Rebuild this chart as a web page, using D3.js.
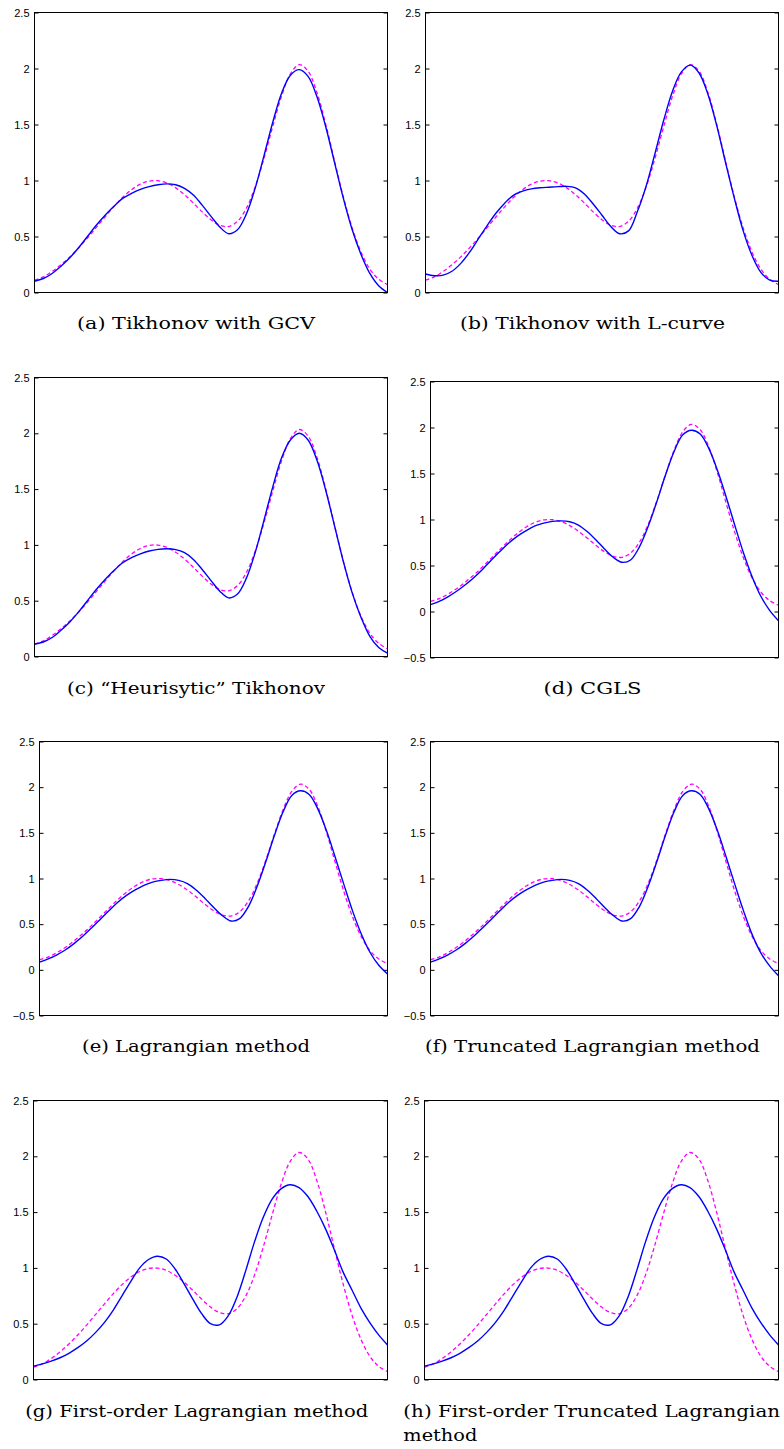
<!DOCTYPE html>
<html lang="en">
<head>
  <meta charset="UTF-8">
  <title>Regularized solutions vs exact solution</title>
  <script src="https://d3js.org/d3.v7.min.js"></script>
  <style>
    body { margin: 0; background: #fff; }
    .tick text { font-family: "Liberation Sans", Arial, sans-serif; font-size: 11px; fill: #000; }
    .tick line { stroke: #000; }
    .caption { font-family: "DejaVu Serif", "Liberation Serif", serif; font-size: 17px; fill: #000; }
  </style>
</head>
<body>
  <div id="chart"></div>

  <script>
    // exact solution (dashed), sampled on 41 equally spaced points across the x range
    const exact = [0.11, 0.14, 0.188, 0.248, 0.318, 0.399, 0.487, 0.581, 0.676, 0.767,
      0.85, 0.918, 0.968, 0.995, 0.998, 0.978, 0.934, 0.873, 0.799, 0.72,
      0.649, 0.6, 0.589, 0.635, 0.751, 0.942, 1.197, 1.484, 1.754, 1.953,
      2.034, 1.976, 1.786, 1.502, 1.173, 0.852, 0.575, 0.36, 0.209, 0.118, 0.07];

    // reconstructed solutions (solid blue)
    const tikhGcv = [0.10, 0.125, 0.17, 0.235, 0.31, 0.40, 0.50, 0.60, 0.69, 0.77,
      0.84, 0.885, 0.92, 0.945, 0.962, 0.97, 0.962, 0.93, 0.87, 0.78,
      0.68, 0.585, 0.525, 0.56, 0.70, 0.93, 1.22, 1.52, 1.78, 1.94,
      1.99, 1.93, 1.75, 1.48, 1.16, 0.84, 0.56, 0.34, 0.17, 0.06, 0.0];
    const tikhLcurve = [0.165, 0.15, 0.155, 0.19, 0.26, 0.36, 0.48, 0.60, 0.71, 0.80,
      0.87, 0.905, 0.925, 0.935, 0.94, 0.945, 0.948, 0.935, 0.88, 0.79,
      0.69, 0.59, 0.525, 0.55, 0.72, 0.95, 1.24, 1.54, 1.80, 1.97,
      2.03, 1.96, 1.77, 1.49, 1.16, 0.84, 0.55, 0.33, 0.18, 0.11, 0.10];
    const tikhHeur = [0.11, 0.13, 0.17, 0.235, 0.31, 0.40, 0.50, 0.60, 0.69, 0.77,
      0.84, 0.885, 0.92, 0.945, 0.96, 0.965, 0.958, 0.93, 0.87, 0.78,
      0.68, 0.585, 0.525, 0.56, 0.70, 0.93, 1.22, 1.52, 1.78, 1.94,
      2.0, 1.94, 1.76, 1.49, 1.17, 0.85, 0.57, 0.35, 0.18, 0.08, 0.03];
    const cgls = [0.075, 0.11, 0.16, 0.22, 0.29, 0.37, 0.46, 0.56, 0.655, 0.745,
      0.82, 0.88, 0.93, 0.96, 0.98, 0.985, 0.975, 0.94, 0.87, 0.78,
      0.68, 0.59, 0.535, 0.56, 0.70, 0.92, 1.19, 1.48, 1.74, 1.92,
      1.97, 1.93, 1.77, 1.53, 1.24, 0.93, 0.63, 0.37, 0.16, 0.01, -0.10];
    const lagrangian = [0.085, 0.12, 0.165, 0.22, 0.29, 0.37, 0.46, 0.555, 0.65, 0.74,
      0.815, 0.875, 0.925, 0.96, 0.98, 0.99, 0.98, 0.945, 0.875, 0.785,
      0.685, 0.595, 0.535, 0.56, 0.69, 0.91, 1.18, 1.47, 1.73, 1.91,
      1.96, 1.92, 1.76, 1.52, 1.23, 0.93, 0.64, 0.39, 0.19, 0.05, -0.045];
    const truncLagrangian = [0.085, 0.12, 0.165, 0.22, 0.29, 0.37, 0.46, 0.555, 0.65, 0.74,
      0.815, 0.875, 0.925, 0.96, 0.98, 0.99, 0.98, 0.945, 0.875, 0.785,
      0.685, 0.595, 0.535, 0.56, 0.69, 0.91, 1.18, 1.47, 1.73, 1.91,
      1.96, 1.92, 1.76, 1.52, 1.23, 0.93, 0.64, 0.38, 0.18, 0.04, -0.065];
    const firstOrder = [0.12, 0.14, 0.165, 0.195, 0.235, 0.285, 0.345, 0.42, 0.51, 0.62,
      0.75, 0.88, 1.0, 1.075, 1.105, 1.08, 0.99, 0.86, 0.72, 0.59,
      0.50, 0.49, 0.57, 0.74, 0.98, 1.24, 1.46, 1.62, 1.71, 1.745,
      1.72, 1.64, 1.51, 1.35, 1.16, 0.96, 0.80, 0.64, 0.51, 0.40, 0.31];
    const firstOrderTrunc = firstOrder.slice();

    const captions = ["(a) Tikhonov with GCV", "(b) Tikhonov with L-curve",
      "(c) \u201cHeurisytic\u201d Tikhonov", "(d) CGLS",
      "(e) Lagrangian method", "(f) Truncated Lagrangian method",
      "(g) First-order Lagrangian method", "(h) First-order Truncated Lagrangian"];
    const solutions = [tikhGcv, tikhLcurve, tikhHeur, cgls, lagrangian, truncLagrangian, firstOrder, firstOrderTrunc];
    const yLower = [0, 0, 0, -0.5, -0.5, -0.5, 0, 0];

    // plot boxes [left, top, right, bottom] and caption [centre x, baseline, width]
    const boxes = [
      [34.5, 12.5, 387.5, 292.5], [425.5, 12.5, 778.5, 292.5],
      [34.5, 377.5, 387.5, 656.5], [430.5, 381.5, 778.5, 657.5],
      [39.5, 741.5, 387.5, 1015.5], [430.5, 741.5, 778.5, 1015.5],
      [33.5, 1100.5, 387.5, 1379.5], [424.5, 1100.5, 778.5, 1379.5]
    ];
    const capPos = [
      [196, 329, 238], [592.5, 329, 265],
      [196, 694, 258], [592.5, 694, 98],
      [196, 1052, 228], [592.5, 1052, 335],
      [196.7, 1417, 343], [591.7, 1417, 376.7]
    ];

    const svg = d3.select("#chart")
      .append("svg")
      .attr("width", 784)
      .attr("height", 1449);

    solutions.forEach((sol, i) => {
      const [l, t, r, b] = boxes[i];
      const g = svg.append("g");

      const x = d3.scaleLinear().domain([0, exact.length - 1]).range([l, r]);
      const y = d3.scaleLinear().domain([yLower[i], 2.5]).range([b, t]);
      const ticks = d3.range(yLower[i], 2.5001, 0.5);

      g.append("g")
        .attr("transform", `translate(${l},0)`)
        .call(d3.axisLeft(y).tickValues(ticks).tickSizeInner(-4).tickSizeOuter(0)
          .tickPadding(5).tickFormat(d3.format("~g")))
        .call(a => a.select(".domain").remove());

      g.append("g")
        .attr("transform", `translate(${r},0)`)
        .call(d3.axisRight(y).tickValues(ticks).tickSizeInner(-4).tickSizeOuter(0).tickFormat(""))
        .call(a => a.select(".domain").remove());

      const line = d3.line()
        .x((d, k) => x(k))
        .y(d => y(d))
        .curve(d3.curveCatmullRom.alpha(0.5));

      g.append("path")
        .datum(exact)
        .attr("fill", "none")
        .attr("stroke", "#ff00ff")
        .attr("stroke-width", 1.3)
        .attr("stroke-dasharray", "4,2.7")
        .attr("d", line);

      g.append("path")
        .datum(sol)
        .attr("fill", "none")
        .attr("stroke", "#0000ff")
        .attr("stroke-width", 1.4)
        .attr("d", line);

      g.append("rect")
        .attr("x", l).attr("y", t)
        .attr("width", r - l).attr("height", b - t)
        .attr("fill", "none")
        .attr("stroke", "#000")
        .attr("stroke-width", 1);

      const [cx, cy, cw] = capPos[i];
      svg.append("text")
        .attr("class", "caption")
        .attr("x", cx)
        .attr("y", cy)
        .attr("text-anchor", "middle")
        .attr("textLength", cw)
        .attr("lengthAdjust", "spacingAndGlyphs")
        .text(captions[i]);
    });

    // second line of caption (h)
    svg.append("text")
      .attr("class", "caption")
      .attr("x", 403.3)
      .attr("y", 1441)
      .attr("textLength", 74)
      .attr("lengthAdjust", "spacingAndGlyphs")
      .text("method");
  </script>
</body>
</html>
